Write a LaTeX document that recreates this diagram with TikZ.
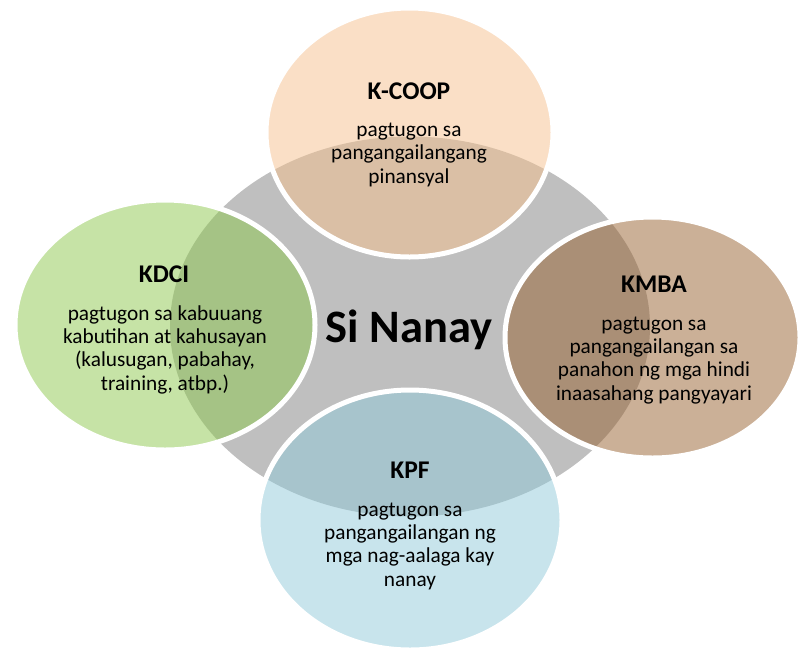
\documentclass[tikz,border=0pt]{standalone}
\usepackage{fontspec}
\setmainfont{Carlito}
\usetikzlibrary{shapes.geometric}
\definecolor{grayc}{RGB}{191,191,191}
\definecolor{peach}{RGB}{245,191,141}
\definecolor{leaf}{RGB}{141,199,77}
\definecolor{tan}{RGB}{151,97,47}
\definecolor{sky}{RGB}{145,201,217}
\tikzset{
  petal/.style={ellipse, draw=white, line width=5pt, fill opacity=0.5, draw opacity=1, inner sep=0pt},
  hdr/.style={font=\fontsize{25.5}{28}\selectfont\bfseries, anchor=base, inner sep=0pt},
  bodytxt/.style={font=\fontsize{21.3}{23.3}\selectfont, align=center, anchor=base, inner sep=0pt},
}
\begin{document}
\begin{tikzpicture}[x=1pt,y=-1pt]
\useasboundingbox (0,0) rectangle (805,654);
\node[ellipse, fill=grayc, minimum width=480pt, minimum height=380pt, inner sep=0pt] (hub) at (410,326.5) {};
\node[petal, fill=peach, minimum width=287pt, minimum height=249pt] (top) at (409.5,132.5) {};
\node[petal, fill=leaf, minimum width=300pt, minimum height=250pt] (left) at (165,325) {};
\node[petal, fill=tan, minimum width=295pt, minimum height=241pt] (right) at (652.5,337.5) {};
\node[petal, fill=sky, minimum width=304pt, minimum height=260pt] (bottom) at (410,520) {};
\node[font=\fontsize{46.5}{50}\selectfont\bfseries, anchor=base, inner sep=0pt] (title) at (409,342) {Si Nanay};
\node[hdr] (topH) at (409,99) {K-COOP};
\node[bodytxt] (topB) at (409,183) {pagtugon sa\\pangangailangang\\pinansyal};
\node[hdr] (leftH) at (164,282) {KDCI};
\node[bodytxt] (leftB) at (165,390) {pagtugon sa kabuuang\\kabutihan at kahusayan\\(kalusugan, pabahay,\\training, atbp.)};
\node[hdr] (rightH) at (654,292) {KMBA};
\node[bodytxt] (rightB) at (654,400) {pagtugon sa\\pangangailangan sa\\panahon ng mga hindi\\inaasahang pangyayari};
\node[hdr] (bottomH) at (410,478) {KPF};
\node[bodytxt] (bottomB) at (410,586) {pagtugon sa\\pangangailangan ng\\mga nag-aalaga kay\\nanay};
\end{tikzpicture}
\end{document}
